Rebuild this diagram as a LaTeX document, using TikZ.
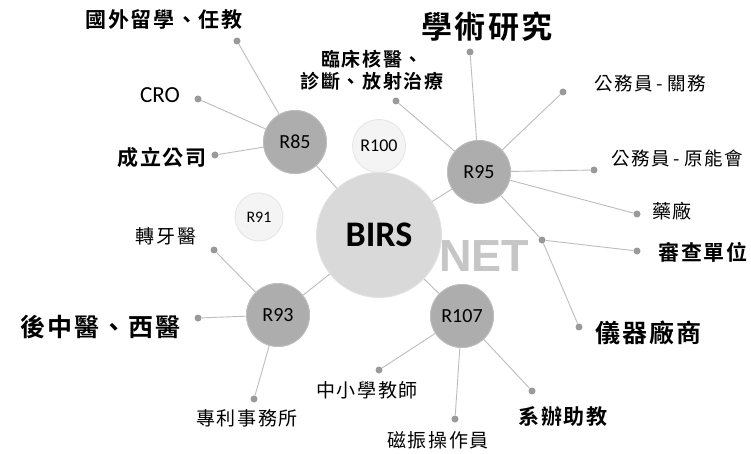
\documentclass[tikz,border=0pt]{standalone}
\usepackage{fontspec}
\setmainfont{Carlito}
\newfontfamily\cjk{Noto Sans CJK TC}[LetterSpace=8,BoldFont={Noto Sans CJK TC Bold}]
\newfontfamily\netfont{Liberation Sans}
\definecolor{hubfill}{HTML}{D9D9D9}
\definecolor{hubdraw}{HTML}{E2E2E2}
\definecolor{midfill}{HTML}{ADADAD}
\definecolor{middraw}{HTML}{BEBEBE}
\definecolor{litefill}{HTML}{F4F4F4}
\definecolor{litedraw}{HTML}{E4E4E4}
\definecolor{linec}{HTML}{BDBDBD}
\definecolor{dotc}{HTML}{9A9A9A}
\definecolor{netc}{HTML}{C6C6C6}
\newcommand{\fsz}[1]{\fontsize{#1}{#1}\selectfont}
\newcommand{\dashsep}{\hspace{4pt}-\hspace{4pt}}
\tikzset{
  conn/.style={draw=linec, line width=0.9pt},
  enddot/.style={circle, fill=dotc, inner sep=0pt, minimum size=7pt},
  bubmid/.style={circle, fill=midfill, draw=middraw, line width=0.8pt, inner sep=0pt, minimum size=63pt, font=\fsz{20}},
  bublite/.style={circle, fill=litefill, draw=litedraw, line width=0.8pt, inner sep=0pt},
  lab/.style={inner sep=0pt, text=black},
}
\begin{document}
\begin{tikzpicture}[x=1pt,y=-1pt]
\useasboundingbox[fill=white] (0,0) rectangle (751,454);
% bubbles (coordinates only, drawn later)
\node[bubmid] (r85) at (295,142) {};
\node[bubmid] (r95) at (479,172) {};
\node[bubmid] (r93) at (278,315) {};
\node[bubmid] (r107) at (462,316) {};
\node[circle, minimum size=125pt, inner sep=0pt] (birs) at (379,235) {};
% end dots
\node[enddot] (d1) at (237,41) {};
\node[enddot] (d2) at (198,99) {};
\node[enddot] (d3) at (215,155) {};
\node[enddot] (d4) at (470,52) {};
\node[enddot] (d5) at (396,101) {};
\node[enddot] (d6) at (563,92) {};
\node[enddot] (d7) at (594,170) {};
\node[enddot] (d8) at (637,214) {};
\node[enddot] (j) at (542,240) {};
\node[enddot] (d9) at (637,251) {};
\node[enddot] (d10) at (579,327) {};
\node[enddot] (d11) at (214,250) {};
\node[enddot] (d12) at (198,318) {};
\node[enddot] (d13) at (254,399) {};
\node[enddot] (d14) at (379,370) {};
\node[enddot] (d15) at (455,419) {};
\node[enddot] (d16) at (532,391) {};
% connectors
\draw[conn] (birs) -- (r85);
\draw[conn] (birs) -- (r95);
\draw[conn] (birs) -- (r93);
\draw[conn] (birs) -- (r107);
\draw[conn] (r85) -- (d1);
\draw[conn] (r85) -- (d2);
\draw[conn] (r85) -- (d3);
\draw[conn] (r95) -- (d4);
\draw[conn] (r95) -- (d5);
\draw[conn] (r95) -- (d6);
\draw[conn] (r95) -- (d7);
\draw[conn] (r95) -- (d8);
\draw[conn] (r95) -- (j);
\draw[conn] (j) -- (d9);
\draw[conn] (j) -- (d10);
\draw[conn] (r93) -- (d11);
\draw[conn] (r93) -- (d12);
\draw[conn] (r93) -- (d13);
\draw[conn] (r107) -- (d14);
\draw[conn] (r107) -- (d15);
\draw[conn] (r107) -- (d16);
% bubbles drawn
\fill[hubfill] (birs.center) circle (62.5pt);
\draw[hubdraw, line width=0.8pt] (birs.center) circle (62.5pt);
\node[font=\netfont\bfseries\fsz{45}, text=netc, inner sep=0pt] (net) at (484,256) {NET};
\node[font=\bfseries\fsz{36}, inner sep=0pt] (birslab) at (379,235) {BIRS};
\node[bubmid] (r85b) at (295,142) {R85};
\node[bubmid] (r95b) at (479,172) {R95};
\node[bubmid] (r93b) at (278,315) {R93};
\node[bubmid] (r107b) at (462,316) {R107};
\node[bublite, minimum size=53pt, font=\fsz{18}] (r100) at (379,146) {R100};
\node[bublite, minimum size=48pt, font=\fsz{16}] (r91) at (259,217) {R91};
% labels
\node[lab, font=\cjk\bfseries\fsz{21}] (t1) at (164,20) {國外留學、任教};
\node[lab, font=\fsz{23}] (t2) at (160,95) {CRO};
\node[lab, font=\cjk\bfseries\fsz{21}] (t3) at (162,158) {成立公司};
\node[lab, font=\cjk\bfseries\fsz{31}] (t4) at (487,27) {學術研究};
\node[lab, font=\cjk\bfseries\fsz{19}, align=center] (t5) at (372,70) {臨床核醫、\\[3pt]診斷、放射治療};
\node[lab, font=\cjk\fsz{18.5}] (t6) at (650,83) {公務員\dashsep 關務};
\node[lab, font=\cjk\fsz{18.5}] (t7) at (677,158) {公務員\dashsep 原能會};
\node[lab, font=\cjk\fsz{19}] (t8) at (672,211) {藥廠};
\node[lab, font=\cjk\bfseries\fsz{21}] (t9) at (703,252) {審查單位};
\node[lab, font=\cjk\bfseries\fsz{25}] (t10) at (648,333) {儀器廠商};
\node[lab, font=\cjk\fsz{19}] (t11) at (166,236) {轉牙醫};
\node[lab, font=\cjk\bfseries\fsz{25}] (t12) at (100,327) {後中醫、西醫};
\node[lab, font=\cjk\fsz{19}] (t13) at (247,418) {專利事務所};
\node[lab, font=\cjk\fsz{19}] (t14) at (367,390) {中小學教師};
\node[lab, font=\cjk\fsz{19}] (t15) at (438,440) {磁振操作員};
\node[lab, font=\cjk\bfseries\fsz{21}] (t16) at (563,416) {系辦助教};
\end{tikzpicture}
\end{document}
